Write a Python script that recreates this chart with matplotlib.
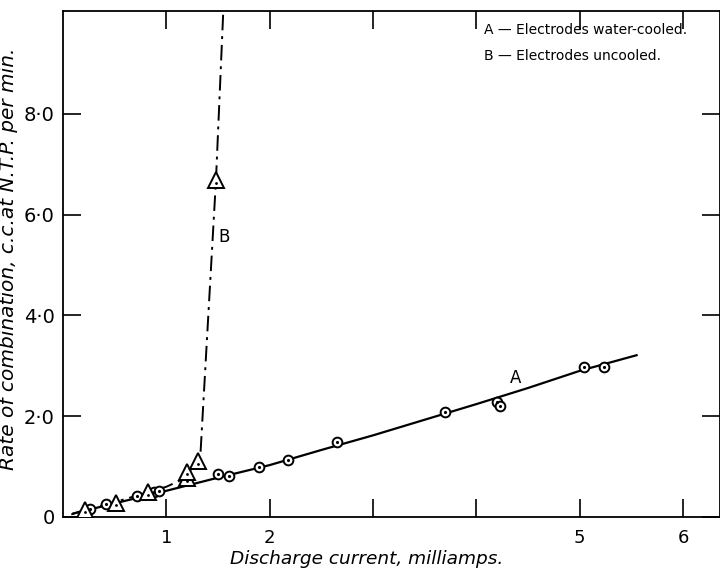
import numpy as np
import matplotlib
matplotlib.use("Agg")
import matplotlib.pyplot as plt

# Curve A - electrodes water-cooled (current in mA, rate in c.c. at N.T.P. per min)
a_current = [0.26, 0.42, 0.72, 0.88, 0.93, 1.50, 1.61, 1.90, 2.18, 2.65, 3.70, 4.20, 4.23, 5.04, 5.23]
a_rate = [0.16, 0.26, 0.42, 0.50, 0.51, 0.85, 0.81, 0.99, 1.14, 1.49, 2.08, 2.28, 2.20, 2.97, 2.98]
a_line_x = [0.10, 0.50, 1.00, 1.50, 2.00, 2.50, 3.00, 3.50, 4.00, 4.50, 5.00, 5.55]
a_line_y = [0.07, 0.27, 0.52, 0.78, 1.03, 1.33, 1.62, 1.93, 2.24, 2.56, 2.90, 3.21]

# Curve B - electrodes uncooled
b_current = [0.21, 0.51, 0.82, 1.20, 1.20, 1.31, 1.48]
b_rate = [0.14, 0.28, 0.49, 0.77, 0.90, 1.11, 6.68]
b_line_x = [0.08, 0.21, 0.51, 0.82, 1.00, 1.15, 1.31, 1.33, 1.48, 1.55]
b_line_y = [0.05, 0.14, 0.30, 0.49, 0.60, 0.74, 1.11, 1.25, 6.68, 10.0]

x_ticks = [1, 2, 3, 4, 5, 6]
x_labels = ["1", "2", "", "", "5", "6"]
y_ticks = [0, 2, 4, 6, 8]
y_labels = ["0", "2·0", "4·0", "6·0", "8·0"]

plt.rcParams["font.family"] = ["DejaVu Sans"]

fig = plt.figure(figsize=(7.2, 5.69), dpi=100)
ax = fig.add_axes([0.0875, 0.0914, 0.9125, 0.8893])

ax.plot(a_line_x, a_line_y, color="black", lw=1.6, zorder=2)
ax.plot(b_line_x, b_line_y, color="black", lw=1.4, dashes=(8, 3, 1.5, 3), zorder=2)

ax.plot(a_current, a_rate, "o", ms=7, mfc="white", mec="black", mew=1.4, zorder=3)
ax.plot(a_current, a_rate, ".", ms=2.5, color="black", zorder=4)
ax.plot(b_current, b_rate, "^", ms=12, mfc="white", mec="black", mew=1.4, zorder=3)
ax.plot(b_current, np.array(b_rate) - 0.05, ".", ms=2, color="black", zorder=4)

ax.text(4.38, 2.76, "A", fontsize=12, ha="center", va="center")
ax.text(1.56, 5.56, "B", fontsize=12, ha="center", va="center")
ax.text(4.07, 9.66, "A — Electrodes water-cooled.", fontsize=10, va="center")
ax.text(4.07, 9.15, "B — Electrodes uncooled.", fontsize=10, va="center")

ax.set_xlim(0, 6.357)
ax.set_ylim(0, 10.04)
ax.set_xticks(x_ticks)
ax.set_xticklabels(x_labels, fontsize=13)
ax.set_yticks(y_ticks)
ax.set_yticklabels(y_labels, fontsize=14)
ax.tick_params(direction="in", length=13, width=1.2, top=True, right=True, pad=6)
ax.tick_params(axis="x", pad=9)
for s in ax.spines.values():
    s.set_linewidth(1.3)

ax.set_xlabel("Discharge current, milliamps.", fontsize=13.3, style="italic")
ax.xaxis.set_label_coords(0.462, -0.066)
ax.set_ylabel("Rate of combination, c.c.at N.T.P. per min.", fontsize=14.5, style="italic")
ax.yaxis.set_label_coords(-0.068, 0.51)

fig.savefig("out.png", dpi=100)
